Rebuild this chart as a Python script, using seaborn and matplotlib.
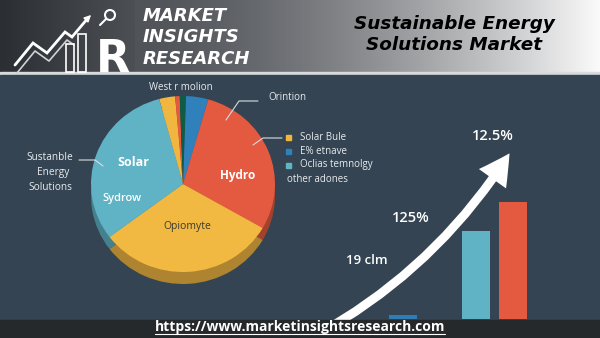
import numpy as np
import pandas as pd
import matplotlib
matplotlib.use("Agg")
import matplotlib.pyplot as plt
import seaborn as sns
from matplotlib.patches import FancyArrowPatch, Rectangle, ArrowStyle, Circle
from matplotlib.colors import to_rgb

sns.set_theme(style="white")
plt.rcParams['font.family'] = ['Open Sans', 'DejaVu Sans']

# ---------------- data ----------------
pie_labels = ["Minor yellow", "Minor red", "Minor green", "Blue", "Hydro", "Opiomyte", "Solar"]
pie_shares = [2.8, 0.8, 1.1, 3.9, 28.9, 31.4, 31.1]
pie_colors = ["#f0b63f", "#e35a40", "#0f5b46", "#2f80bb", "#e35a40", "#f1b842", "#60b2c5"]

bar_categories = ["A", "B", "C", "D"]
bar_values = [4, 0, 88, 117]
bar_colors = ["#2e7db6", "#60b2c5", "#60b2c5", "#e35a40"]

legend_labels = ["Solar Bule", "E% etnave", "Oclias temnolgy"]
legend_colors = ["#f0b63f", "#2f80bb", "#5fb5c0"]

title_lines = ["Sustainable Energy", "Solutions Market"]
brand_lines = ["MARKET", "INSIGHTS", "RESEARCH"]
url = "https://www.marketinsightsresearch.com"

W, H = 600, 338
PANEL = "#344452"
FOOT = "#26292c"

fig = plt.figure(figsize=(6, 3.38), dpi=100)


def px_axes(x0, y0, x1, y1):
    return fig.add_axes([x0 / W, 1 - y1 / H, (x1 - x0) / W, (y1 - y0) / H])


bg = fig.add_axes([0, 0, 1, 1])
bg.set_xlim(0, W)
bg.set_ylim(H, 0)
bg.axis("off")

# header gradient (right part)
t = np.linspace(0, 1, 256) ** 1.5
c0, c1 = np.array(to_rgb("#505358")), np.array(to_rgb("#fafafa"))
grad = (c0[None, :] * (1 - t[:, None]) + c1[None, :] * t[:, None])[None, :, :]
bg.imshow(grad, extent=(135, 600, 73, 0), aspect="auto", zorder=0)
# logo area
tl = np.linspace(0, 1, 64)
l0, l1 = np.array(to_rgb("#2b2e32")), np.array(to_rgb("#4c4f54"))
lg = (l0[None, :] * (1 - tl[:, None]) + l1[None, :] * tl[:, None])[None, :, :]
bg.imshow(lg, extent=(0, 135, 73, 0), aspect="auto", zorder=0)
bg.add_patch(Rectangle((0, 72), 600, 2.5, color="#d8dadc", zorder=1))
bg.add_patch(Rectangle((0, 74.5), 600, 246, color=PANEL, zorder=1))

# logo decoration
zz_x = [15, 33, 47, 65, 72, 88]
zz_y = [65, 43, 53, 32, 37, 18]
bg.plot(zz_x, zz_y, color="white", lw=2, zorder=2, solid_joinstyle="miter")
bg.plot([x + 2 for x in zz_x[:-1]], [y + 8 for y in zz_y[:-1]], color="#cfd2d6", lw=1.2, zorder=2)
bg.add_patch(FancyArrowPatch((84, 22), (93, 13), arrowstyle="-|>", mutation_scale=10, color="white", zorder=3))
bg.add_patch(Circle((110, 15), 5, fill=False, ec="white", lw=1.5, zorder=3))
bg.plot([106, 100], [19, 25], color="white", lw=1.5, zorder=3)
for (x0, y0) in [(66, 44), (78, 34)]:
    bg.add_patch(Rectangle((x0, y0), 8, 72 - y0, fill=False, ec="white", lw=1.2, zorder=3))
bg.text(96, 72, "R", color="white", fontsize=32, fontweight="bold", family="DejaVu Sans",
        ha="left", va="baseline", zorder=3)

for i, s in enumerate(brand_lines):
    bg.text(143, 16 + 21.5 * i, s, color="white", fontsize=13, fontweight="bold", style="oblique",
            family="DejaVu Sans", ha="left", va="center", zorder=3)
for i, s in enumerate(title_lines):
    bg.text(454, 24 + 21 * i, s, color="black", fontsize=13.2, fontweight="bold", style="oblique",
            family="DejaVu Sans", ha="center", va="center", zorder=3)

# ---------------- pie ----------------
pax = px_axes(91, 96, 275, 284)
dark = [tuple(np.array(to_rgb(c)) * 0.72) for c in pie_colors]
pax.pie(pie_shares, colors=dark, startangle=105, counterclock=False, center=(0, -0.136),
        radius=1, wedgeprops=dict(linewidth=0))
pax.pie(pie_shares, colors=pie_colors, startangle=105, counterclock=False, center=(0, 0),
        radius=1, wedgeprops=dict(linewidth=0))
pax.set_aspect("auto")
pax.set_xlim(-1, 1)
pax.set_ylim(-1.136, 1)
pax.axis("off")

# ---------------- bars ----------------
bax = px_axes(384.5, 75, 531.5, 319)
df = pd.DataFrame({"cat": bar_categories, "val": bar_values})
sns.barplot(data=df, x="cat", y="val", hue="cat", palette=bar_colors, width=0.76,
            saturation=1, legend=False, ax=bax, linewidth=0, edgecolor="none")
bax.set_xlim(-0.5, 3.5)
bax.set_ylim(0, 244)
bax.axis("off")
bax.patch.set_alpha(0)

# ---------------- overlay ----------------
ov = fig.add_axes([0, 0, 1, 1])
ov.set_xlim(0, W)
ov.set_ylim(H, 0)
ov.axis("off")
ov.patch.set_alpha(0)

arrow = FancyArrowPatch((315, 336), (511, 151), connectionstyle="arc3,rad=0.13",
                        arrowstyle=ArrowStyle.Simple(head_length=1.1, head_width=1.2, tail_width=0.32),
                        mutation_scale=20, color="white", lw=0, zorder=2)
ov.add_patch(arrow)
ov.add_patch(Rectangle((0, 319.5), 600, 20, color=FOOT, zorder=5))
ov.text(300, 327, url, color="white", fontsize=10, fontweight="bold", ha="center", va="center", zorder=6)
ov.plot([155, 445], [334, 334], color="white", lw=0.8, zorder=6)

# pie labels
ov.text(133, 163, "Solar", color="white", fontsize=9, fontweight="bold", ha="center", va="center", zorder=6)
ov.text(122, 199, "Sydrow", color="white", fontsize=8, fontweight="semibold", ha="center", va="center", zorder=6)
ov.text(238, 175, "Hydro", color="white", fontsize=8.5, fontweight="bold", ha="center", va="center", zorder=6)
ov.text(187, 226, "Opiomyte", color="#3a3a30", fontsize=7.5, ha="center", va="center", zorder=6)
ov.text(181, 87, "West r molion", color="#e8ecef", fontsize=7, ha="center", va="center", zorder=6)
ov.text(268, 97, "Orintion", color="#e8ecef", fontsize=7, ha="left", va="center", zorder=6)
ov.plot([226, 239, 258], [120, 101, 101], color="#d8dde2", lw=0.8, zorder=6)

for i, (lab, col) in enumerate(zip(legend_labels, legend_colors)):
    y = 137 + 14 * i
    ov.add_patch(Rectangle((286, y - 2.5), 5, 5, color=col, zorder=6))
    ov.text(300, y, lab, color="#e8ecef", fontsize=7, ha="left", va="center", zorder=6)
ov.text(287, 179, "other adones", color="#e8ecef", fontsize=7, ha="left", va="center", zorder=6)
ov.plot([253, 263, 282], [145, 138, 138], color="#d8dde2", lw=0.8, zorder=6)

for i, s in enumerate(["Sustanble", "Energy", "Solutions"]):
    ov.text(50 + (3 if i == 1 else 0), 158 + 14.5 * i, s, color="#e8ecef", fontsize=7.3, ha="center",
            va="center", zorder=6)
ov.plot([79, 95, 103], [160, 160, 166], color="#d8dde2", lw=0.8, zorder=6)

ov.text(493, 136, "12.5%", color="white", fontsize=10.5, fontweight="semibold", ha="center", va="center", zorder=6)
ov.text(411, 218, "125%", color="white", fontsize=10.5, fontweight="semibold", ha="center", va="center", zorder=6)
ov.text(367, 261, "19 clm", color="white", fontsize=9.5, fontweight="semibold", ha="center", va="center", zorder=6)

fig.savefig("out.png", dpi=100)
